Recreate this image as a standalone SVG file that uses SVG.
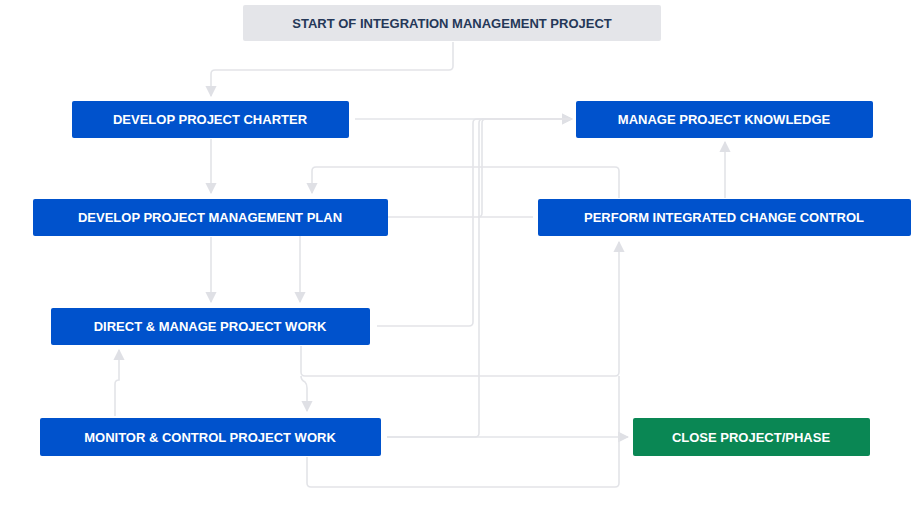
<svg xmlns="http://www.w3.org/2000/svg" width="919" height="505" viewBox="0 0 919 505">
<style>
.b{fill:#0052cc}
.t{font-family:"Liberation Sans",Arial,sans-serif;font-weight:bold;font-size:13px;fill:#fff;text-anchor:middle}
.c{fill:none;stroke:#e3e4e8;stroke-width:1.6}
</style>
<defs><marker id="a" viewBox="0 0 10 10" refX="9" refY="5" markerWidth="7" markerHeight="7" orient="auto"><path d="M0,0L10,5L0,10z" fill="#dfe0e5"/></marker></defs>
<rect width="919" height="505" fill="#fff"/>
<g id="connectors">
<path class="c" d="M453,42V66q0,4-4,4H215q-4,0-4,4V96" marker-end="url(#a)"/>
<path class="c" d="M211,139V193" marker-end="url(#a)"/>
<path class="c" d="M211,237V302" marker-end="url(#a)"/>
<path class="c" d="M355,119H572" marker-end="url(#a)"/>
<path class="c" d="M377,326H469q4,0,4-4V123q0-4,4-4H572" marker-end="url(#a)"/>
<path class="c" d="M387,437H475q4,0,4-4V123q0-4,4-4H572"/>
<path class="c" d="M387,437H628" marker-end="url(#a)"/>
<path class="c" d="M533,217H300V302" marker-end="url(#a)"/>
<path class="c" d="M478,217q4,0,4-4V123q0-4,4-4H572"/>
<path class="c" d="M619,198V171q0-4-4-4H316q-4,0-4,4V193" marker-end="url(#a)"/>
<path class="c" d="M301,346V372q0,4,4,4H615q4,0,4-4V242" marker-end="url(#a)"/>
<path class="c" d="M301,376q0,4,4,6q2,2,2,6V411" marker-end="url(#a)"/>
<path class="c" d="M307,457V483q0,4,4,4H615q4,0,4-4V376"/>
<path class="c" d="M115,416V384q0-4,4-4V350" marker-end="url(#a)"/>
<path class="c" d="M725,198V142" marker-end="url(#a)"/>
</g>
<g id="start"><rect x="243" y="5" width="418" height="36" rx="2" fill="#e4e5e9"/><text class="t" x="452" y="28" style="fill:#253858">START OF INTEGRATION MANAGEMENT PROJECT</text></g>
<g id="charter"><rect class="b" x="72" y="101" width="277" height="37" rx="2"/><text class="t" x="210" y="124">DEVELOP PROJECT CHARTER</text></g>
<g id="knowledge"><rect class="b" x="576" y="101" width="297" height="37" rx="2"/><text class="t" x="724" y="124">MANAGE PROJECT KNOWLEDGE</text></g>
<g id="plan"><rect class="b" x="33" y="199" width="355" height="37" rx="2"/><text class="t" x="210" y="222">DEVELOP PROJECT MANAGEMENT PLAN</text></g>
<g id="perform"><rect class="b" x="538" y="199" width="373" height="37" rx="2"/><text class="t" x="724" y="222">PERFORM INTEGRATED CHANGE CONTROL</text></g>
<g id="direct"><rect class="b" x="51" y="308" width="319" height="37" rx="2"/><text class="t" x="210" y="331">DIRECT &amp; MANAGE PROJECT WORK</text></g>
<g id="monitor"><rect class="b" x="40" y="418" width="341" height="38" rx="2"/><text class="t" x="210" y="442">MONITOR &amp; CONTROL PROJECT WORK</text></g>
<g id="close"><rect x="633" y="418" width="237" height="38" rx="2" fill="#0a8754"/><text class="t" x="751" y="442">CLOSE PROJECT/PHASE</text></g>
</svg>
